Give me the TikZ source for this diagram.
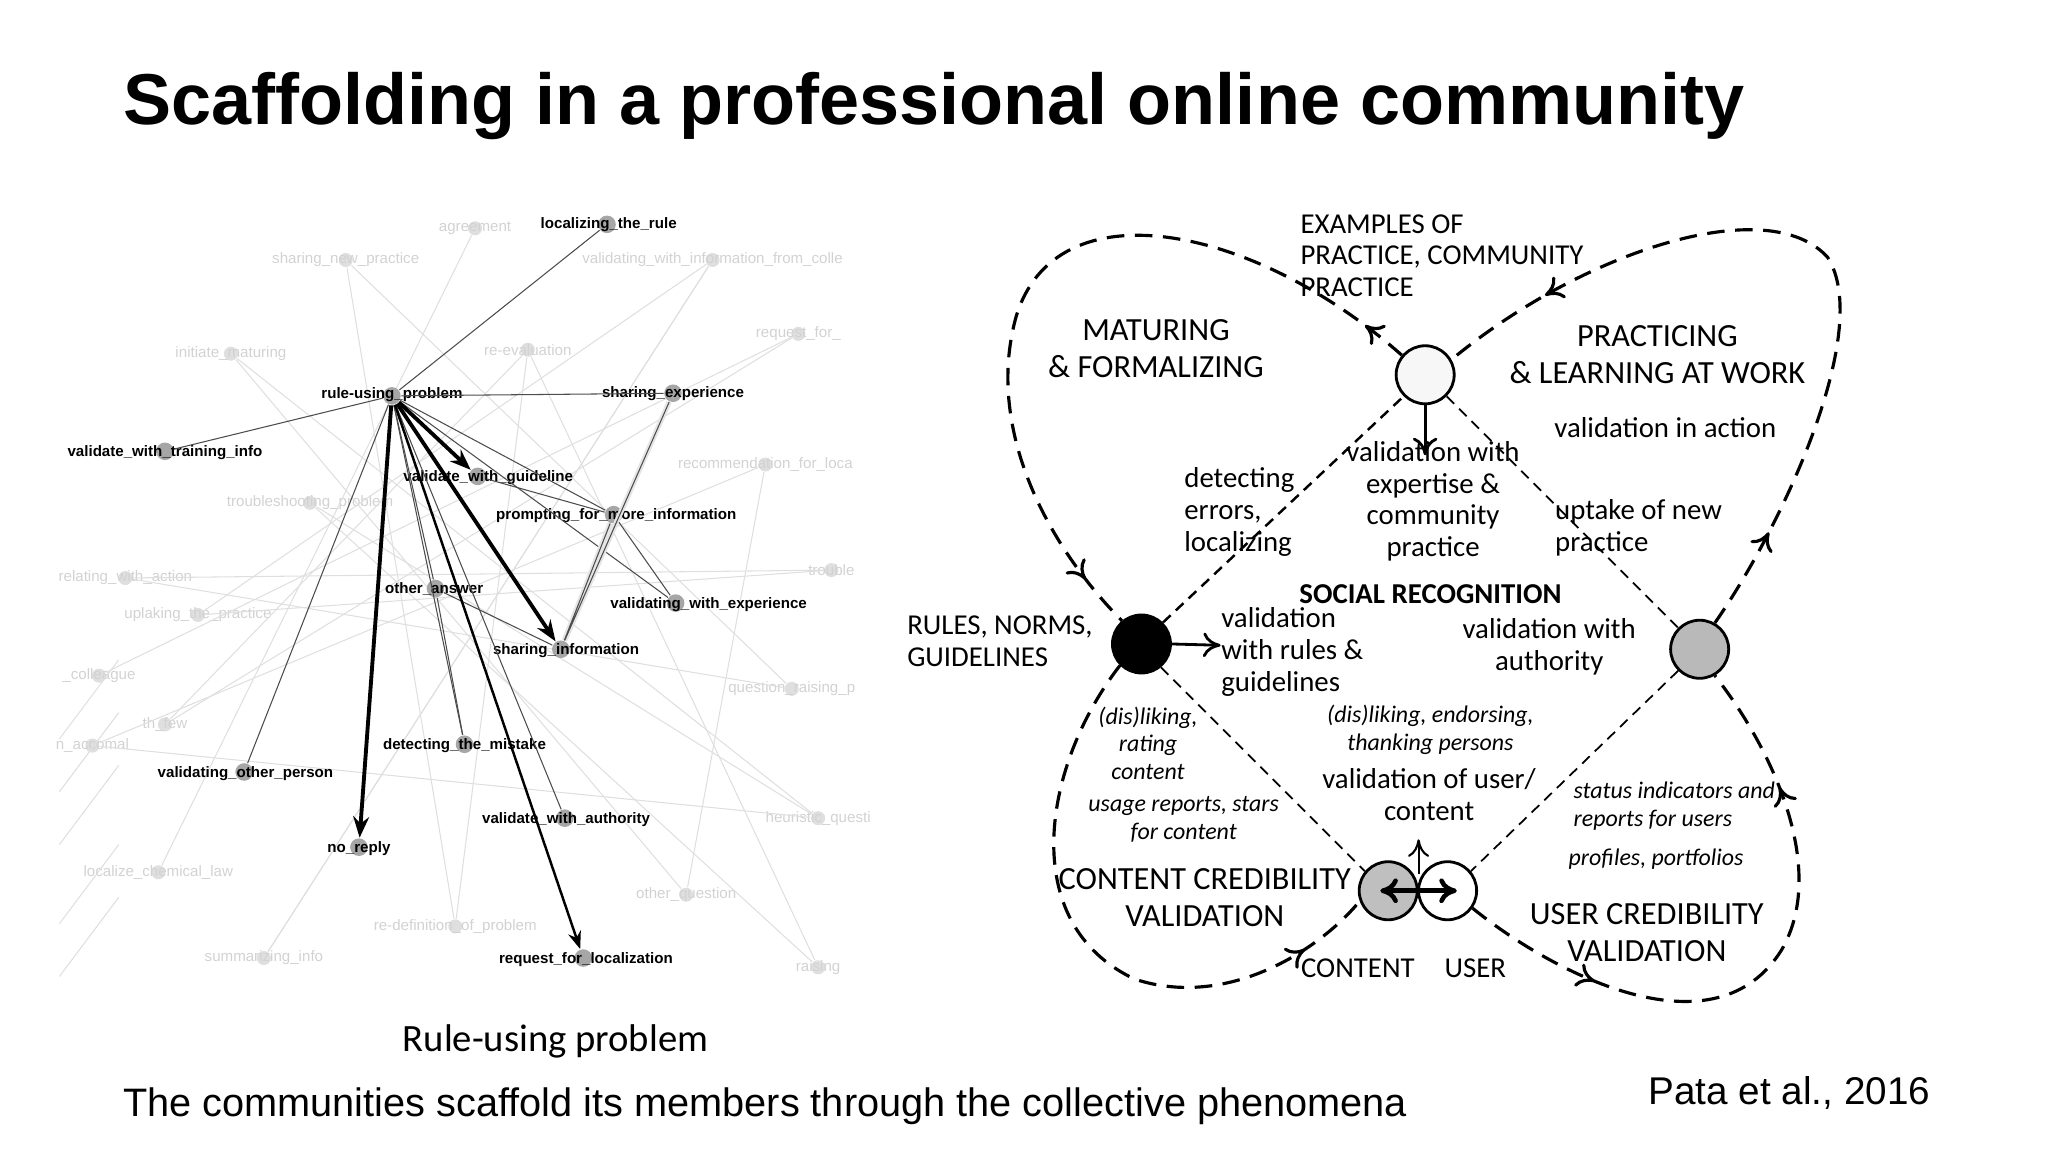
\documentclass[tikz,border=0pt]{standalone}
\usepackage{fontspec}
\setmainfont{Liberation Sans}
\newfontfamily\carl{Carlito}
\usetikzlibrary{arrows.meta,decorations.markings}
\begin{document}
\begin{tikzpicture}[x=0.013196cm,y=-0.013196cm,
  lab/.style={font=\fontsize{4.3}{5}\selectfont\bfseries,inner sep=1pt},
  flab/.style={font=\fontsize{4.3}{5}\selectfont,text=gray!35,inner sep=1pt},
  dot/.style={circle,fill=gray!70,inner sep=0pt,minimum size=5pt},
  fdot/.style={circle,fill=gray!25,inner sep=0pt,minimum size=4pt},
  fe/.style={gray!25,line width=0.3pt},
  thin/.style={gray!60!black,line width=0.3pt},
  thick/.style={black,line width=1.1pt,-{Stealth[length=6pt]}},
  rt/.style={font=\carl\fontsize{8.2}{9}\selectfont,align=center,inner sep=0pt},
  rc/.style={font=\carl\fontsize{9.2}{10.6}\selectfont,align=center,inner sep=0pt},
  ri/.style={font=\carl\itshape\fontsize{6.8}{7.8}\selectfont,align=center,inner sep=0pt},
  bigd/.style={dashed,line width=0.9pt,dash pattern=on 5pt off 3pt},
  sd/.style={dashed,line width=0.5pt,dash pattern=on 3pt off 2pt},
  mk/.style={postaction={decorate,decoration={markings,mark=at position #1 with {\arrow{To[length=5pt,width=7pt]}}}}},
  circ/.style={circle,draw,line width=0.8pt,minimum size=44*0.013196cm,inner sep=0pt}]
\useasboundingbox (0,0) rectangle (1552,873);
\node[anchor=west,font=\fontsize{20.5}{24}\selectfont\bfseries] (title) at (84,80) {Scaffolding in a professional online community};

% ---- left network: faint background
\foreach \n/\x/\y/\t in {f1/360/173/agreement,f2/262/197/sharing\_new\_practice,f3/540/197/validating\_with\_information\_from\_colle,f4/175/268/initiate\_maturing,f5/400/265/re-evaluation,f6/605/253/request\_for\_,f7/580/352/recommendation\_for\_loca,f8/235/381/troubleshooting\_problem,f9/95/438/relating\_with\_action,f10/150/466/uplaking\_the\_practice,f11/75/512/\_colleague,f12/125/549/th\_few,f13/70/565/n\_accomal,f14/120/661/localize\_chemical\_law,f15/345/702/re-definition\_of\_problem,f16/200/726/summarizing\_info,f17/520/678/other\_question,f18/620/733/raising,f19/620/620/heuristic\_questi,f20/600/522/question\_raising\_p,f21/630/432/trouble}
  {\node[fdot] (\n) at (\x,\y) {}; \node[flab] at (\x,\y) {\t};}
\foreach \a/\b in {f1/f14,f2/f15,f3/f16,f4/f17,f5/f18,f6/f11,f7/f13,f8/f19,f9/f20,f10/f21,f12/f6,f3/f10,f5/f12,f19/f4,f20/f2,f17/f7,f21/f9,f18/f8,f16/f3,f15/f5,f13/f19}
  {\draw[fe] (\a) -- (\b);}
\foreach \y in {560,600,640,700,740}{\draw[fe] (45,\y) -- (90,\y-60);}
% main nodes
\node[dot] (loc) at (460,170) {}; \node[lab,anchor=east] at (516,170) {localizing\_the\_rule};
\node[dot] (rup) at (297,300) {}; \node[lab] at (297,299) {rule-using\_problem};
\node[dot] (sexp) at (510,298) {}; \node[lab] at (510,298) {sharing\_experience};
\node[dot] (vti) at (125,342) {}; \node[lab] at (125,343) {validate\_with\_training\_info};
\node[dot] (vg) at (362,361) {}; \node[lab] at (370,362) {validate\_with\_guideline};
\node[dot] (pmi) at (465,390) {}; \node[lab] at (467,391) {prompting\_for\_more\_information};
\node[dot] (oa) at (330,446) {}; \node[lab] at (329,446) {other\_answer};
\node[dot] (vwe) at (512,457) {}; \node[lab] at (537,458) {validating\_with\_experience};
\node[dot] (si) at (425,492) {}; \node[lab] at (429,493) {sharing\_information};
\node[dot] (dm) at (352,564) {}; \node[lab] at (352,565) {detecting\_the\_mistake};
\node[dot] (vop) at (185,585) {}; \node[lab] at (186,586) {validating\_other\_person};
\node[dot] (nr) at (272,642) {}; \node[lab] at (272,643) {no\_reply};
\node[dot] (vwa) at (428,620) {}; \node[lab] at (429,621) {validate\_with\_authority};
\node[dot] (rfl) at (442,726) {}; \node[lab] at (444,727) {request\_for\_localization};
\foreach \b in {loc,sexp,vti,oa,vop,dm,vwa,pmi,vwe}{\draw[thin] (rup) -- (\b);}
\draw[gray!20,line width=1.5pt] (pmi) -- (si) (sexp) -- (si);
\draw[thin] (vg) -- (pmi) -- (si) (oa) -- (si) (sexp) -- (si) (pmi) -- (vwe) (oa) -- (dm);
\draw[thick] (rup) -- (vg);
\draw[thick] (rup) -- (si);
\draw[thick] (rup) -- (nr);
\draw[black,line width=0.7pt,-{Stealth[length=5pt]}] (rup) -- (rfl);
\node[font=\carl\fontsize{11}{13}\selectfont] (cap) at (421,789) {Rule-using problem};

% ---- right diagram
\node[circ,fill=gray!6] (top) at (1080,284) {};
\node[circ,fill=black] (blk) at (865,488) {};
\node[circ,fill=gray!55] (gry) at (1288,492) {};
\node[circ,fill=gray!50] (con) at (1052,675) {};
\node[circ,fill=white] (usr) at (1097,675) {};

\draw[bigd,mk=0.06,mk=0.93] (top.140) .. controls (950,170) and (800,140) .. (770,240) .. controls (745,330) and (800,420) .. (blk.130);
\draw[bigd,mk=0.88] (blk.225) .. controls (790,580) and (770,700) .. (860,742) .. controls (930,765) and (1000,720) .. (con.200);
\draw[bigd,mk=0.22,mk=0.8] (usr.-35) .. controls (1180,740) and (1300,800) .. (1350,720) .. controls (1385,660) and (1345,570) .. (gry.-60);
\draw[bigd,mk=0.13,mk=0.86] (gry.60) .. controls (1350,400) and (1420,250) .. (1385,195) .. controls (1340,145) and (1200,190) .. (top.30);
\draw[sd,line width=0.7pt] (blk.45) -- (top.225);
\draw[sd] (top.-45) -- (gry.135);
\draw[sd] (blk.-50) -- (con.140);
\draw[sd] (gry.-135) -- (usr.40);
\draw[line width=0.8pt,-{To[length=5pt,width=7pt]}] (top.south) -- (1080,345);
\draw[line width=0.8pt,-{To[length=5pt,width=7pt]}] (blk.east) -- (925,489);
\draw[line width=1.3pt,{To[length=5pt,width=7pt]}-{To[length=5pt,width=7pt]}] (1046,675) -- (1104,675);
\draw[line width=0.6pt,-{To[length=5pt,width=6pt]}] (1075,662) -- (1075,636);

\node[rt,anchor=north west,align=left] (ex) at (985,162) {EXAMPLES OF\\PRACTICE, COMMUNITY\\PRACTICE};
\node[rc] (mat) at (876,264) {MATURING\\\& FORMALIZING};
\node[rc] (prac) at (1256,269) {PRACTICING\\\& LEARNING AT WORK};
\node[rt] (via) at (1262,324) {validation in action};
\node[rt,anchor=west,align=left] (det) at (897,388) {detecting\\errors,\\localizing};
\node[rt] (vex) at (1086,380) {validation with\\expertise \&\\community\\practice};
\node[rt,anchor=west,align=left] (upt) at (1178,400) {uptake of new\\practice};
\node[rt,font=\carl\bfseries\fontsize{8.2}{9}\selectfont] (soc) at (1084,450) {SOCIAL RECOGNITION};
\node[rt,anchor=west,align=left] (rng) at (687,486) {RULES, NORMS,\\GUIDELINES};
\node[rt,anchor=west,align=left] (vrg) at (925,494) {validation\\with rules \&\\guidelines};
\node[rt] (vwau) at (1174,490) {validation with\\authority};
\node[ri] (dis1) at (870,563) {(dis)liking,\\rating\\content};
\node[ri] (usage) at (897,621) {usage reports, stars\\for content};
\node[ri] (dis2) at (1084,553) {(dis)liking, endorsing,\\thanking persons};
\node[rt] (vuc) at (1083,602) {validation of user/\\content};
\node[ri,anchor=west,align=left] (stat) at (1192,611) {status indicators and\\reports for users};
\node[ri] (prof) at (1255,651) {profiles, portfolios};
\node[rc] (ccv) at (913,680) {CONTENT CREDIBILITY\\VALIDATION};
\node[rc] (ucv) at (1248,707) {USER CREDIBILITY\\VALIDATION};
\node[rt] (cl) at (1029,734) {CONTENT};
\node[rt] (ul) at (1118,734) {USER};

\node[anchor=west,font=\fontsize{11.3}{13}\selectfont] (bot) at (84,838) {The communities scaffold its members through the collective phenomena};
\node[font=\fontsize{11}{13}\selectfont] (pata) at (1356,828) {Pata et al., 2016};
\end{tikzpicture}
\end{document}
